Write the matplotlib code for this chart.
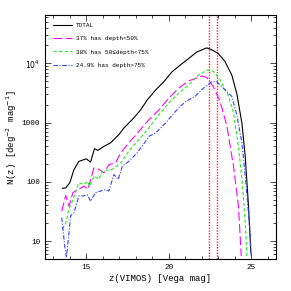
import matplotlib
matplotlib.use('Agg')
import matplotlib.pyplot as plt
import numpy as np
from matplotlib.ticker import FixedLocator, MultipleLocator, LogLocator, NullFormatter

# values
mag_tot = [13.55, 13.75, 14.0, 14.25, 14.55, 15.0, 15.26, 15.36, 15.5, 15.7, 16.07, 16.47, 16.98,
           17.28, 17.78, 18.29, 18.69, 19.2, 19.7, 20.2, 20.7, 21.2, 21.7, 22.3, 22.6, 23.0,
           23.4, 23.83, 24.13, 24.44, 24.64, 24.84, 24.98]
n_tot = [78, 79, 97, 161, 222, 245, 215, 270, 363, 340, 398, 455, 630,
         810, 1120, 1630, 2400, 3530, 4880, 7200, 9350, 12000, 15500, 18200, 17000, 14700,
         10900, 6300, 3080, 980, 270, 39, 6.5]

mag_d1 = [13.51, 13.75, 13.95, 14.19, 14.55, 14.86, 15.1, 15.46, 15.77, 16.07, 16.37, 16.77, 17.08,
          17.58, 18.19, 18.79, 19.4, 20.0, 20.6, 21.2, 22.0, 22.3, 22.72, 23.12, 23.53, 23.93,
          24.23, 24.4]
n_d1 = [32, 59, 39, 66, 75, 85, 75, 172, 163, 142, 195, 209, 307,
        455, 710, 1120, 1630, 2570, 3800, 5030, 6100, 5800, 3960, 2250, 870, 183,
        39, 5.6]

mag_d2 = [13.55, 13.75, 13.95, 14.19, 14.55, 14.86, 15.06, 15.2, 15.46, 15.77, 15.97, 16.57, 17.08,
          17.58, 18.19, 18.79, 19.4, 20.0, 20.6, 21.2, 21.8, 22.3, 22.72, 23.12, 23.63, 23.93,
          24.23, 24.48, 24.68, 24.74]
n_d2 = [16, 20, 35, 50, 97, 90, 103, 85, 126, 110, 152, 163, 209,
        331, 515, 810, 1360, 2140, 3120, 4300, 6300, 7700, 7300, 5300, 2780, 1450,
        396, 85, 14, 5.6]

mag_d3 = [13.51, 13.69, 13.79, 13.91, 14.05, 14.25, 14.55, 14.86, 15.06, 15.26, 15.56, 15.87, 16.17,
          16.37, 16.67, 16.94, 17.18, 17.58, 18.08, 18.59, 18.79, 19.2, 19.8, 20.4, 21.0, 21.6,
          22.1, 22.62, 22.92, 23.43, 23.83, 24.13, 24.44, 24.68, 24.94, 25.0]
n_d3 = [25, 8.3, 5.3, 10.8, 27, 30, 58, 58, 61, 47, 66, 70, 74,
        70, 133, 110, 183, 222, 307, 480, 585, 665, 980, 1540, 2250, 2760,
        3800, 4900, 4900, 3530, 2760, 1350, 455, 96, 14, 5.6]

vlines = [22.45, 22.95]
labels = ['TOTAL', '37% has depth<50%', '38% has 50\u2264depth<75%', '24.9% has depth>75%']

fnt = 'Liberation Mono'

fig = plt.figure(figsize=(2.91, 2.91), dpi=100)
ax = fig.add_axes([0.155, 0.110, 0.793, 0.838])

ax.plot(mag_tot, n_tot, color='black', lw=0.8, label=labels[0])
ax.plot(mag_d1, n_d1, color='#ff00ff', lw=0.8, dashes=(8, 3), label=labels[1])
ax.plot(mag_d2, n_d2, color='#22ee22', lw=0.8, dashes=(3, 2), label=labels[2])
ax.plot(mag_d3, n_d3, color='#3344ff', lw=0.8, dashes=(4, 1.5, 1, 1.5), label=labels[3])
for v in vlines:
    ax.axvline(v, color='#ff2020', lw=1.0, ls=(0, (1, 1)), zorder=1)

ax.set_yscale('log')
ax.set_xlim(12.5, 26.5)
ax.set_ylim(5, 6.5e4)

ax.xaxis.set_major_locator(MultipleLocator(5))
ax.xaxis.set_minor_locator(MultipleLocator(1))
ax.yaxis.set_major_locator(FixedLocator([10, 100, 1000, 10000]))
ax.yaxis.set_minor_locator(LogLocator(base=10, subs=np.arange(2, 10)))
ax.yaxis.set_minor_formatter(NullFormatter())
ax.set_yticklabels(['10', '100', '1000', r'$10^4$'])
ax.tick_params(which='both', direction='in', top=True, right=True, width=0.5)
ax.tick_params(which='major', length=4, labelsize=5.5)
ax.tick_params(which='minor', length=2)
for lab in ax.get_xticklabels() + ax.get_yticklabels():
    lab.set_family(fnt)
for s in ax.spines.values():
    s.set_linewidth(0.8)

ax.set_xlabel('z(VIMOS) [Vega mag]', family=fnt, fontsize=6.5, labelpad=2)
ax.set_ylabel(r'N(z) [deg$^{-2}$ mag$^{-1}$]', family=fnt, fontsize=6.5, labelpad=2)

leg = ax.legend(loc='upper left', frameon=False, prop={'family': fnt, 'size': 4.3},
                handlelength=3.2, labelspacing=1.35, borderaxespad=0.9, handletextpad=0.6)

fig.savefig('out.png', dpi=100)
